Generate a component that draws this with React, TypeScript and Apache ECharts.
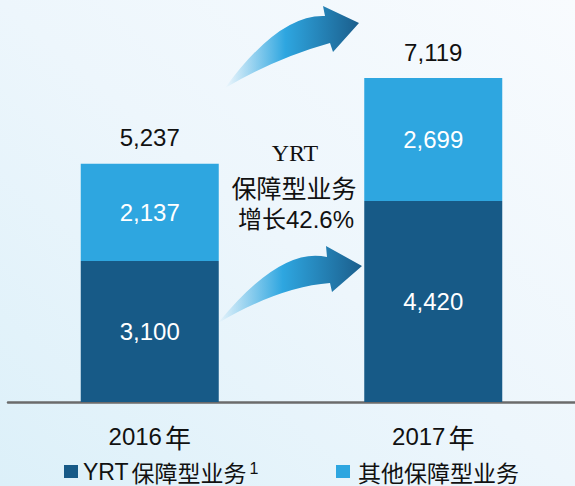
import React, { useEffect, useRef } from "react";
import * as echarts from "echarts";

const categories = ["2016年", "2017年"];
const yrtValues = [3100, 4420];
const otherValues = [2137, 2699];
const totalValues = [5237, 7119];
const seriesNames = ["YRT保障型业务", "其他保障型业务"];
const noteLines = ["YRT", "保障型业务", "增长42.6%"];

const DARK = "#175a87";
const LIGHT = "#2ea6e0";
const FONT = '"Liberation Sans", "Noto Sans CJK SC", sans-serif';
const CJK = '"Noto Sans CJK SC", sans-serif';

const upperArrow =
  "M 225 88 Q 279 14 325 16 L 323 6 L 359 23 L 333 52 L 330 43 Q 276 58 225 88 Z";
const lowerArrow =
  "M 218 323 Q 281 246 327 257 L 326 246 L 362 266 L 332 292 L 330 283 Q 279 287 218 323 Z";

let registered = false;
function registerShapes() {
  if (registered) return;
  echarts.graphic.registerShape("arrowUpper", echarts.graphic.extendPath(upperArrow, {}) as any);
  echarts.graphic.registerShape("arrowLower", echarts.graphic.extendPath(lowerArrow, {}) as any);
  registered = true;
}

const fmt = (v: number) => v.toLocaleString("en-US");

// split a label into latin and CJK runs for rich text
function richSplit(s: string, latinKey: string, cjkKey: string) {
  const parts = s.match(/[\u4e00-\u9fff]+|[^\u4e00-\u9fff]+/g) || [];
  return parts
    .map((p) => (/[\u4e00-\u9fff]/.test(p) ? `{${cjkKey}|${p}}` : `{${latinKey}|${p}}`))
    .join("");
}

export default function App() {
  const ref = useRef<HTMLDivElement>(null);
  useEffect(() => {
    if (!ref.current) return;
    registerShapes();
    const chart = echarts.init(ref.current, undefined, { renderer: "svg" });
    const arrowFill = () =>
      new echarts.graphic.LinearGradient(0, 0, 1, 0, [
        { offset: 0, color: "rgba(46,166,224,0.0)" },
        { offset: 0.45, color: "#2ea6e0" },
        { offset: 1, color: "#1b5e8c" },
      ]);
    const legendRich = {
      n: { fontSize: 23, color: "#111", fontFamily: FONT, lineHeight: 22 },
      c: { fontSize: 23, color: "#111", fontFamily: CJK, lineHeight: 22, padding: [0, 3, 0, 3] },
      sup: { fontSize: 16, color: "#111", fontFamily: FONT, verticalAlign: "top", lineHeight: 16, padding: [0, 0, 6, 0] },
    };
    chart.setOption({
      animation: false,
      backgroundColor: new echarts.graphic.LinearGradient(0, 1, 1, 0, [
        { offset: 0, color: "#dcf0f9" },
        { offset: 0.5, color: "#edf6fc" },
        { offset: 1, color: "#f8fbfe" },
      ]),
      grid: { left: 8, right: -6, top: 38, bottom: 84 },
      xAxis: {
        type: "category",
        data: categories,
        axisTick: { show: false },
        axisLine: { lineStyle: { color: "#6b6b6b", width: 2.5 } },
        axisLabel: {
          margin: 22,
          formatter: (v: string) => richSplit(v, "n", "c"),
          rich: {
            n: { fontSize: 24, color: "#111", fontFamily: FONT, lineHeight: 24 },
            c: { fontSize: 26, color: "#111", fontFamily: CJK, lineHeight: 24, padding: [0, 0, 0, 3] },
          },
        },
      },
      yAxis: { type: "value", min: 0, max: 8000, show: false, splitLine: { show: false } },
      legend: [
        {
          data: [seriesNames[0]],
          left: 59,
          top: 455,
          icon: "rect",
          itemWidth: 14,
          itemHeight: 13,
          itemGap: 0,
          formatter: (name: string) => richSplit(name, "n", "c") + "{sup|1}",
          textStyle: { color: "#111", fontFamily: FONT, fontSize: 23, rich: legendRich },
        },
        {
          data: [seriesNames[1]],
          left: 331,
          top: 455,
          icon: "rect",
          itemWidth: 14,
          itemHeight: 13,
          formatter: (name: string) => richSplit(name, "n", "c"),
          textStyle: { color: "#111", fontFamily: FONT, fontSize: 23, rich: legendRich },
        },
      ],
      series: [
        {
          name: seriesNames[0],
          type: "bar",
          stack: "total",
          barWidth: 138,
          data: yrtValues,
          itemStyle: { color: DARK },
          label: {
            show: true,
            position: "inside",
            color: "#fff",
            fontSize: 24,
            fontFamily: FONT,
            formatter: (p: any) => fmt(p.value),
          },
        },
        {
          name: seriesNames[1],
          type: "bar",
          stack: "total",
          barWidth: 138,
          data: otherValues,
          itemStyle: { color: LIGHT },
          label: {
            show: true,
            position: "inside",
            color: "#fff",
            fontSize: 24,
            fontFamily: FONT,
            formatter: (p: any) => fmt(p.value),
          },
        },
        {
          name: "合计",
          type: "bar",
          barWidth: 138,
          barGap: "-100%",
          data: totalValues,
          silent: true,
          z: 1,
          itemStyle: { color: "rgba(0,0,0,0)" },
          label: {
            show: true,
            position: "top",
            distance: 14,
            color: "#111",
            fontSize: 24,
            fontFamily: FONT,
            formatter: (p: any) => fmt(p.value),
          },
        },
      ],
      graphic: [
        { type: "arrowUpper", x: 0, y: 0, silent: true, style: { fill: arrowFill() } },
        { type: "arrowLower", x: 0, y: 0, silent: true, style: { fill: arrowFill() } },
        {
          type: "text",
          x: 295,
          y: 153,
          style: {
            text: noteLines[0],
            fill: "#111",
            font: '24px "Liberation Serif", serif',
            textAlign: "center",
            textVerticalAlign: "middle",
          },
        },
        {
          type: "text",
          x: 294,
          y: 187,
          style: {
            text: noteLines[1],
            fill: "#111",
            font: '25px "Noto Sans CJK SC", sans-serif',
            textAlign: "center",
            textVerticalAlign: "middle",
          },
        },
        {
          type: "text",
          x: 296,
          y: 219,
          style: {
            text: noteLines[2],
            fill: "#111",
            font: '24px "Liberation Sans", "Noto Sans CJK SC", sans-serif',
            textAlign: "center",
            textVerticalAlign: "middle",
          },
        },
      ],
    });
    return () => chart.dispose();
  }, []);
  return (
    <div
      ref={ref}
      style={{ position: "fixed", left: 0, top: 0, width: 575, height: 486 }}
    />
  );
}
